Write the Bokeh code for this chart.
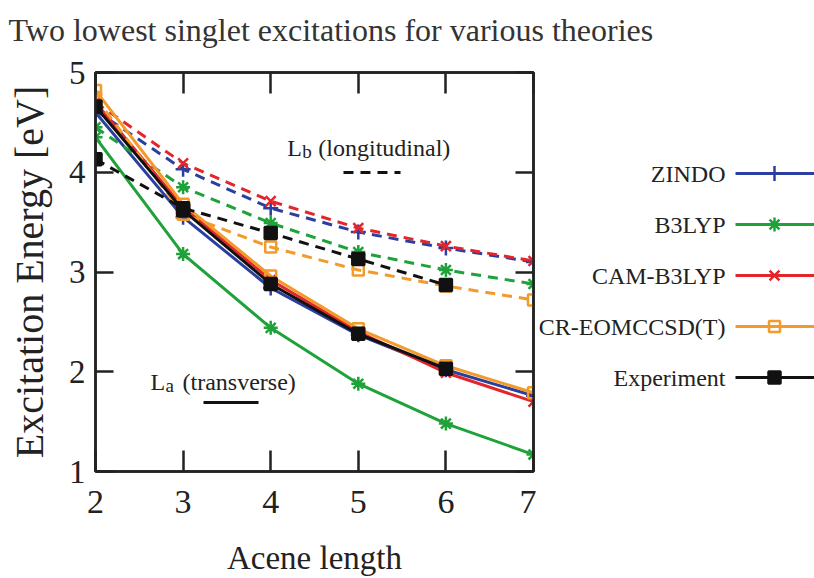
from bokeh.plotting import figure
from bokeh.models import Range1d, LinearAxis, Label, FixedTicker
from bokeh.layouts import row, column
from bokeh.core.properties import value
from bokeh.embed import file_html
from bokeh.resources import INLINE

# ---------------- data ----------------
acene = [2, 3, 4, 5, 6, 7]
acene_exp = [2, 3, 4, 5, 6]

methods = ["ZINDO", "B3LYP", "CAM-B3LYP", "CR-EOMCCSD(T)", "Experiment"]

# La (transverse) - solid lines
zindo_la = [4.60, 3.55, 2.84, 2.37, 2.02, 1.76]
b3lyp_la = [4.35, 3.18, 2.44, 1.88, 1.48, 1.17]
cam_la = [4.70, 3.65, 2.92, 2.40, 1.99, 1.70]
cr_la = [4.82, 3.68, 2.96, 2.43, 2.06, 1.79]
exp_la = [4.66, 3.62, 2.88, 2.38, 2.03]

# Lb (longitudinal) - dashed lines
zindo_lb = [4.62, 4.03, 3.64, 3.40, 3.24, 3.10]
b3lyp_lb = [4.45, 3.85, 3.49, 3.20, 3.02, 2.88]
cam_lb = [4.70, 4.09, 3.71, 3.44, 3.26, 3.11]
cr_lb = [4.75, 3.58, 3.25, 3.02, 2.86, 2.72]
exp_lb = [4.13, 3.64, 3.39, 3.13, 2.87]

x_ticks = [2, 3, 4, 5, 6, 7]
y_ticks = [1, 2, 3, 4, 5]

title_text = "Two lowest singlet excitations for various theories"

# ---------------- styling ----------------
FONT = "Liberation Serif"
INK = "#222222"
colors = ["#2b3f9e", "#20a23a", "#e2262b", "#f39a2b", "#111111"]
markers = ["cross", "asterisk", "x", "square", "square"]
msizes = [15, 14, 14, 11, 12]
mfill = [None, None, None, None, "#111111"]

W, H = 814, 578
TITLE_H = 50
MAIN_W = 536
BORDER_TOP, BORDER_BOTTOM = 22, 107          # main plot frame: page y 72 .. 471
FRAME_TOP = TITLE_H + BORDER_TOP
FRAME_BOTTOM = H - BORDER_BOTTOM

# ---------------- title strip ----------------
tfig = figure(width=W, height=TITLE_H, output_backend="svg", toolbar_location=None, title=None,
              x_range=Range1d(0, W), y_range=Range1d(TITLE_H, 0),
              x_axis_location=None, y_axis_location=None, min_border=0)
tfig.grid.visible = False
tfig.outline_line_color = None
tfig.background_fill_color = "white"
tfig.border_fill_color = "white"
tfig.text(x=[8], y=[29], text=[title_text], text_font=value(FONT), text_font_size="32px",
          text_color="#333333", text_baseline="middle", text_align="left")

# ---------------- main plot ----------------
p = figure(width=MAIN_W, height=H - TITLE_H, output_backend="svg", toolbar_location=None,
           title=None, x_range=Range1d(2, 7), y_range=Range1d(1, 5),
           min_border_left=95, min_border_right=MAIN_W - 533,
           min_border_top=BORDER_TOP, min_border_bottom=BORDER_BOTTOM,
           x_axis_label="Acene length", y_axis_label="Excitation Energy [eV]")
p.grid.visible = False
p.background_fill_color = "white"
p.border_fill_color = "white"
p.outline_line_color = INK
p.outline_line_width = 2.5

for ax, ticks, tin in ((p.xaxis[0], x_ticks, 21), (p.yaxis[0], y_ticks, 18)):
    ax.ticker = FixedTicker(ticks=ticks)
    ax.major_tick_in = tin
    ax.major_tick_out = 0
    ax.minor_tick_line_color = None
    ax.axis_line_color = INK
    ax.axis_line_width = 2.5
    ax.major_tick_line_color = INK
    ax.major_tick_line_width = 2.5
    ax.major_label_text_font = FONT
    ax.major_label_text_color = "#222222"
    ax.axis_label_text_font = FONT
    ax.axis_label_text_font_style = "normal"
    ax.axis_label_text_color = "#222222"

p.xaxis[0].major_label_text_font_size = "34px"
p.xaxis[0].major_label_standoff = 19
p.xaxis[0].axis_label_standoff = 24
p.xaxis[0].axis_label_text_font_size = "33px"
p.yaxis[0].major_label_text_font_size = "33px"
p.yaxis[0].major_label_standoff = 10
p.yaxis[0].axis_label_standoff = 14
p.yaxis[0].axis_label_text_font_size = "40px"

# mirrored ticks on top and right (labels not drawn)
axis_kw = dict(major_tick_out=0, major_label_text_font_size="2px", major_label_text_color=None,
               major_label_standoff=0, minor_tick_line_color=None, axis_line_color=INK,
               axis_line_width=2.5, major_tick_line_color=INK, major_tick_line_width=2.5)
p.add_layout(LinearAxis(ticker=FixedTicker(ticks=x_ticks), major_tick_in=21, **axis_kw), "above")
p.add_layout(LinearAxis(ticker=FixedTicker(ticks=y_ticks), major_tick_in=18, **axis_kw), "right")

# ---------------- series ----------------
la_sets = [zindo_la, b3lyp_la, cam_la, cr_la, exp_la]
lb_sets = [zindo_lb, b3lyp_lb, cam_lb, cr_lb, exp_lb]
xs_sets = [acene, acene, acene, acene, acene_exp]

for xs, la, lb, c, m, s, f in zip(xs_sets, la_sets, lb_sets, colors, markers, msizes, mfill):
    p.line(xs, lb, line_color=c, line_width=3, line_dash="10 7")
    p.scatter(xs, lb, marker=m, size=s, line_color=c, line_width=2.5, fill_color=f)
    p.line(xs, la, line_color=c, line_width=3)
    p.scatter(xs, la, marker=m, size=s, line_color=c, line_width=2.5, fill_color=f)

# ---------------- in-plot keys ----------------
lab_kw = dict(text_font=FONT, text_color="#222222", text_baseline="alphabetic")
p.add_layout(Label(x=4.19, y=4.24, text="L", text_font_size="24px", **lab_kw))
p.add_layout(Label(x=4.19, y=4.24, x_offset=15, y_offset=-3, text="b", text_font_size="19px", **lab_kw))
p.add_layout(Label(x=4.19, y=4.24, x_offset=31, text="(longitudinal)", text_font_size="24px", **lab_kw))
p.line([4.831, 5.482], [3.997, 3.997], line_color="#111111", line_width=3, line_dash="10 7")

p.add_layout(Label(x=2.628, y=1.90, text="L", text_font_size="24px", **lab_kw))
p.add_layout(Label(x=2.628, y=1.90, x_offset=15, y_offset=-4, text="a", text_font_size="19px", **lab_kw))
p.add_layout(Label(x=2.628, y=1.90, x_offset=32, text="(transverse)", text_font_size="24px", **lab_kw))
p.line([3.233, 3.861], [1.692, 1.692], line_color="#111111", line_width=3)

# ---------------- legend panel (label left of the sample, gnuplot style) ----------------
# its frame is given the same vertical borders as the main plot, ranges are page pixels
leg = figure(width=W - MAIN_W, height=H - TITLE_H, output_backend="svg", toolbar_location=None,
             title=None, x_range=Range1d(MAIN_W, W), y_range=Range1d(FRAME_BOTTOM, FRAME_TOP),
             x_axis_location=None, y_axis_location=None,
             min_border_left=0, min_border_right=0,
             min_border_top=BORDER_TOP, min_border_bottom=BORDER_BOTTOM)
leg.grid.visible = False
leg.outline_line_color = None
leg.background_fill_color = "white"
leg.border_fill_color = "white"

n = len(methods)
key_y = [173 + 51 * i for i in range(n)]
key_x0, key_x1, key_xm, key_text_x = 735, W, 774, 725
leg.segment(x0=[key_x0] * n, x1=[key_x1] * n, y0=key_y, y1=key_y, line_color=colors, line_width=3)
for yy, c, m, s, f in zip(key_y, colors, markers, msizes, mfill):
    leg.scatter([key_xm], [yy], marker=m, size=s, line_color=c, line_width=2.5, fill_color=f)
leg.text(x=[key_text_x] * n, y=key_y, text=methods, text_font=value(FONT),
         text_font_size="24px", text_color="#222222", text_align="right", text_baseline="middle")

layout = column(tfig, row(p, leg, spacing=0), spacing=0)
open("out.html", "w").write(file_html(layout, INLINE))
